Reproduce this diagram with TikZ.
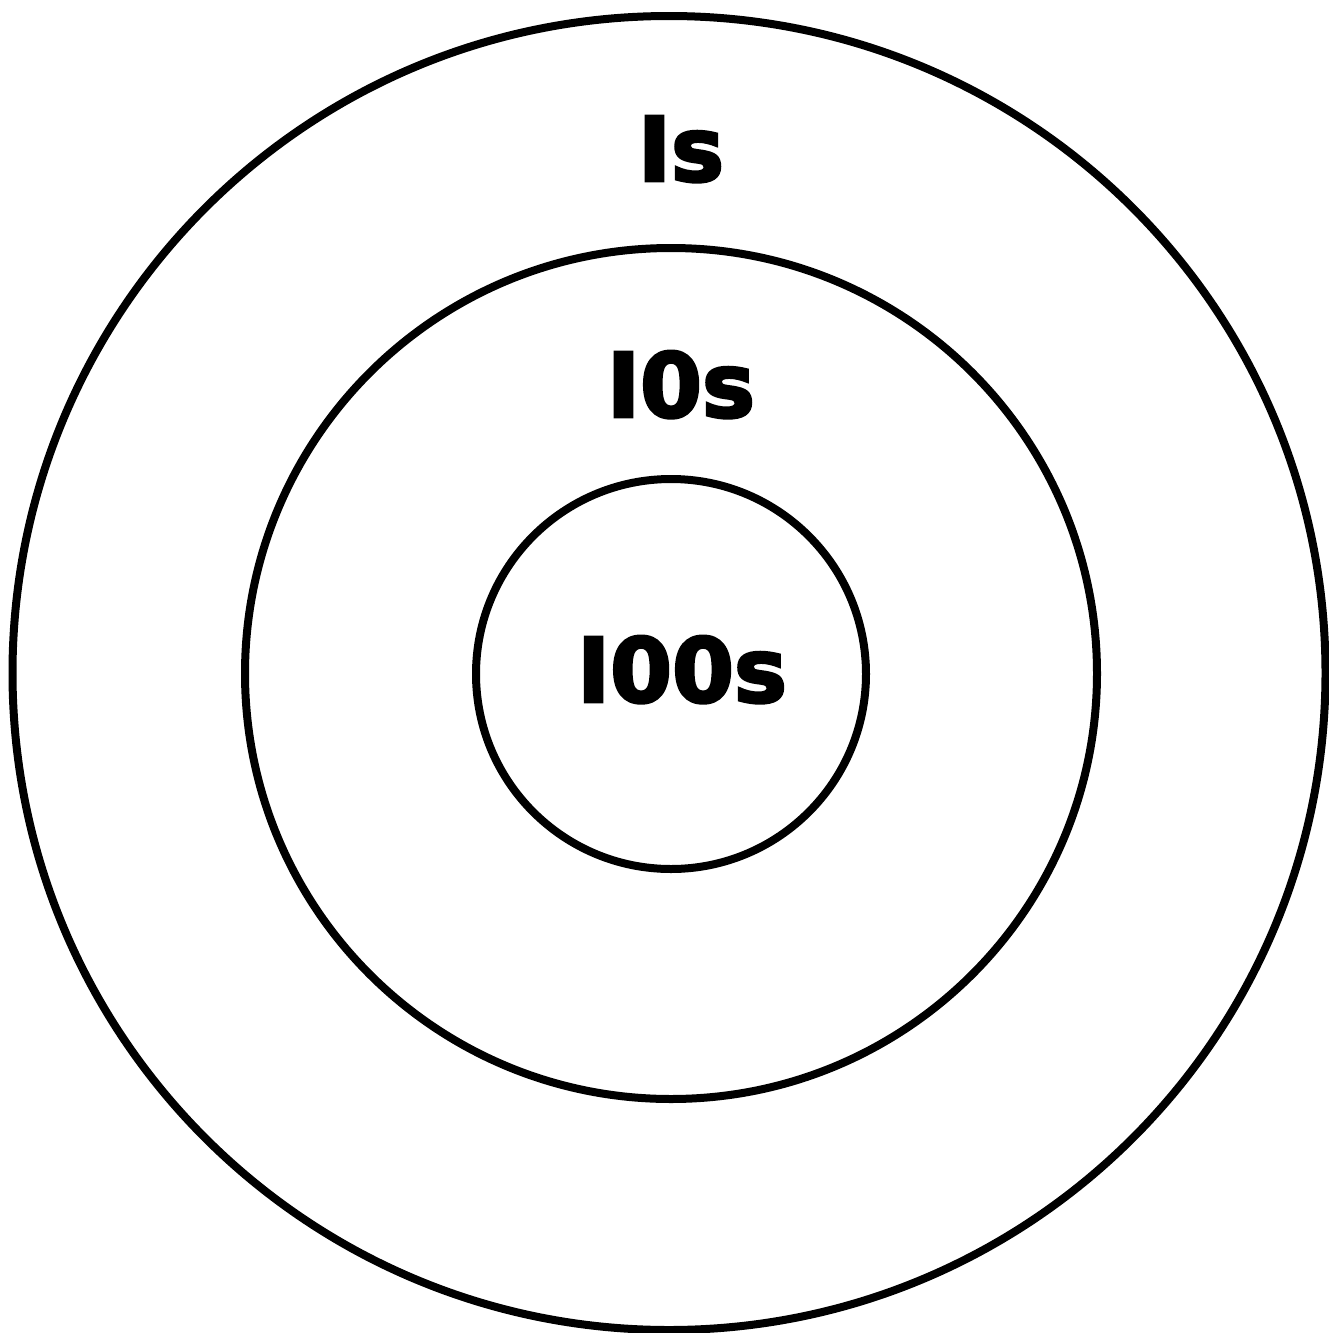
\documentclass[tikz,border=0pt]{standalone}
\usepackage{fontspec}
\setmainfont{DejaVu Sans}
\newfontfamily\heavyfont{DejaVu Sans}[UprightFont=* Bold, FakeBold=3.2]
\begin{document}
\begin{tikzpicture}[x=1pt,y=-1pt,
  ring/.style={draw=black,line width=8pt},
  lbl/.style={font=\fontsize{89}{89}\heavyfont,anchor=base,inner sep=0pt}]
\useasboundingbox (0,0) rectangle (1328,1333);
\draw[ring] (669,673) ellipse [x radius=656.5, y radius=657];
\draw[ring] (671,673.5) ellipse [x radius=426, y radius=425.5];
\draw[ring] (671,674) ellipse [x radius=195, y radius=195];
\node[lbl] (a) at (681,181) {Is};
\node[lbl] (b) at (681,417) {I0s};
\node[lbl] (c) at (682,702) {I00s};
\end{tikzpicture}
\end{document}
